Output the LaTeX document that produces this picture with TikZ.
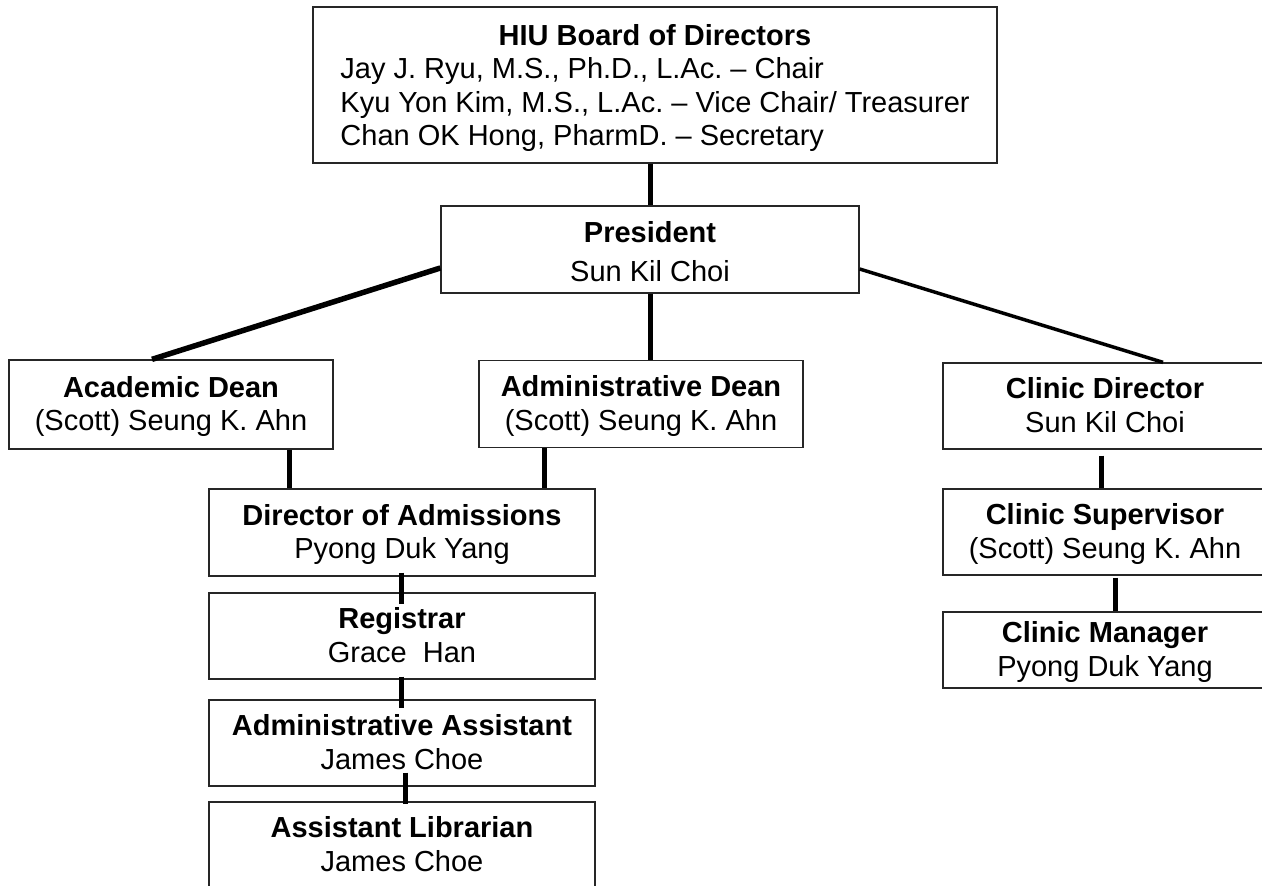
\documentclass[tikz,border=0pt]{standalone}
\usepackage{fontspec}
\setmainfont{Liberation Sans}
\frenchspacing

\def \tall{\rule[-6.5pt]{0pt}{31.5pt}}
\def \role#1#2{\tall\textbf{#1}\\\tall#2}

\tikzset{
  post/.style={draw=black!85, line width=1.3pt, align=center, inner sep=0pt,
    minimum width=324pt, minimum height=87pt, font=\fontsize{29}{33.5}\selectfont},
  wide/.style={post, minimum width=386pt},
  link/.style={line width=5pt}
}

\begin{document}
\begin{tikzpicture}[x=1pt, y=-1pt]
\useasboundingbox (0,0) rectangle (1262,886);

\node[post, minimum width=684pt, minimum height=156pt] (board) at (655,85)
  {\begin{tabular}{@{}l@{}}
   \multicolumn{1}{@{}c@{}}{\rule{0pt}{31pt}\textbf{HIU Board of Directors}}\\
   Jay J. Ryu, M.S., Ph.D., L.Ac. – Chair\\
   Kyu Yon Kim, M.S., L.Ac. – Vice Chair/ Treasurer\\
   Chan OK Hong, PharmD. – Secretary
   \end{tabular}};
\node[post, minimum width=418pt] (pres) at (650,249.5) {\tall\textbf{President}\\[5.5pt]Sun Kil Choi};

\node[post, minimum height=89pt] (acad) at (171,404.5) {\role{Academic Dean}{(Scott) Seung K. Ahn}};
\node[post] (adean) at (641,404) {\role{Administrative Dean}{(Scott) Seung K. Ahn}};
\node[post, minimum height=86pt] (cdir) at (1105,406) {\role{Clinic Director}{Sun Kil Choi}};

\node[wide] (diradm) at (402,532.5) {\role{Director of Admissions}{Pyong Duk Yang}};
\node[wide, minimum height=86pt] (reg) at (402,636) {\role{Registrar}{Grace\ \ Han}};
\node[wide, minimum height=86pt] (aa) at (402,743) {\role{Administrative Assistant}{James Choe}};
\node[wide, minimum height=86pt] (al) at (402,845) {\role{Assistant Librarian}{James Choe}};

\node[post, minimum height=86pt] (csup) at (1105,532) {\role{Clinic Supervisor}{(Scott) Seung K. Ahn}};
\node[post, minimum height=76pt] (cman) at (1105,650) {\role{Clinic Manager}{Pyong Duk Yang}};

\draw[link] (pres.north |- board.south) -- (pres.north);
\draw[link, line width=5.5pt] ([yshift=-18.5pt]pres.west) -- ([xshift=-19pt]acad.north);
\draw[link, line width=3.5pt] ([yshift=-19.5pt]pres.east) -- ([xshift=58pt]cdir.north);
\draw[link] (pres.south) -- (pres.south |- adean.north);
\draw[link] ([xshift=118pt]acad.south) -- ([xshift=118pt]acad.south |- diradm.north);
\draw[link] ([xshift=-97pt]adean.south) -- ([xshift=-97pt]adean.south |- diradm.north);
\draw[link] ([xshift=-1pt,yshift=4pt]diradm.south) -- ([xshift=-1pt,yshift=-12pt]reg.north);
\draw[link] ([xshift=-1pt,yshift=3pt]reg.south) -- ([xshift=-1pt,yshift=-9pt]aa.north);
\draw[link] ([xshift=3pt,yshift=14pt]aa.south) -- ([xshift=3pt,yshift=-3pt]al.north);
\draw[link] ([xshift=-4pt,yshift=-6pt]cdir.south) -- ([xshift=-4pt]csup.north);
\draw[link] ([xshift=10pt,yshift=-2pt]csup.south) -- ([xshift=10pt]cman.north);
\end{tikzpicture}
\end{document}
